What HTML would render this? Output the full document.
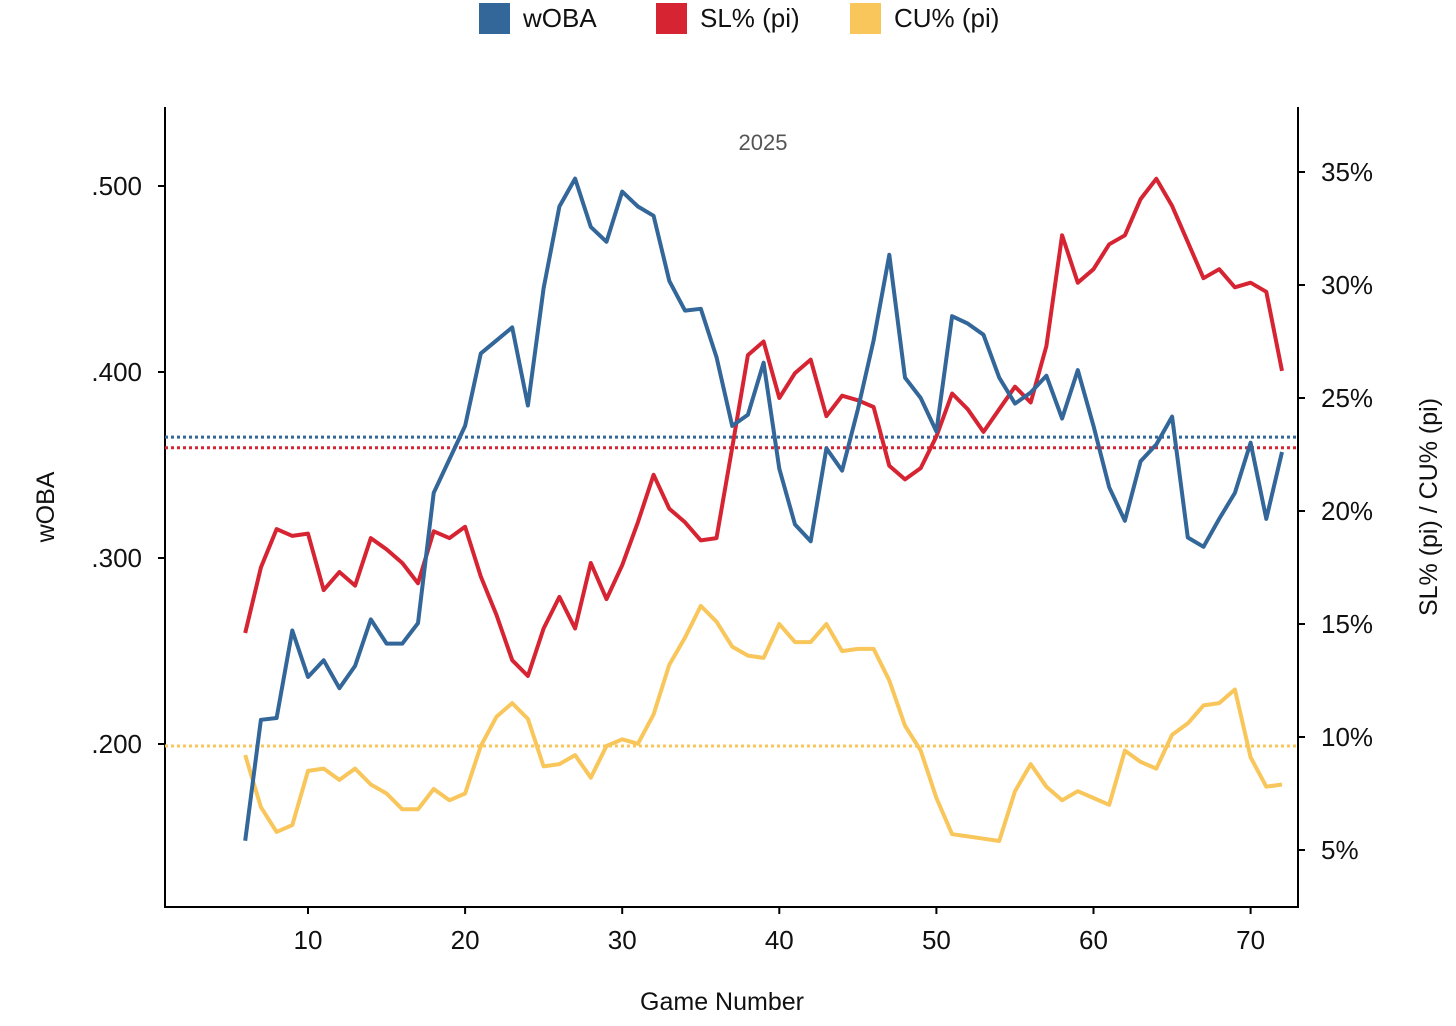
<!DOCTYPE html>
<html><head><meta charset="utf-8">
<style>
html,body{margin:0;padding:0;background:#fff;}
svg text{font-family:"Liberation Sans",sans-serif;}
</style></head>
<body>
<svg id="chart" width="1456" height="1021" viewBox="0 0 1456 1021" xmlns="http://www.w3.org/2000/svg">
  <g>
    <rect x="479" y="3" width="31" height="31" fill="#336699"/>
    <text x="523" y="27" font-size="26" fill="#111">wOBA</text>
    <rect x="656" y="3" width="31" height="31" fill="#d62433"/>
    <text x="700" y="27" font-size="26" fill="#111">SL% (pi)</text>
    <rect x="850" y="3" width="31" height="31" fill="#f8c65a"/>
    <text x="894" y="27" font-size="26" fill="#111">CU% (pi)</text>
  </g>
  <text x="763" y="150" font-size="22" fill="#555" text-anchor="middle">2025</text>
  <g id="axes"></g>
  <g id="refs"></g>
  <g id="series"></g>
  <text x="722" y="1010" font-size="25" fill="#111" text-anchor="middle">Game Number</text>
  <text transform="translate(54,507) rotate(-90)" font-size="25" fill="#111" text-anchor="middle">wOBA</text>
  <text transform="translate(1437,507) rotate(-90)" font-size="25" fill="#111" text-anchor="middle">SL% (pi) / CU% (pi)</text>
</svg>
<script>
const games = [];
for (let g = 6; g <= 72; g++) games.push(g);
const wobaValues = [.148,.213,.214,.261,.236,.245,.230,.242,.267,.254,.254,.265,.335,.353,.371,.410,.417,.424,.382,.445,.489,.504,.478,.470,.497,.489,.484,.449,.433,.434,.408,.371,.377,.405,.348,.318,.309,.359,.347,.380,.417,.463,.397,.386,.368,.430,.426,.420,.397,.383,.389,.398,.375,.401,.371,.338,.320,.352,.361,.376,.311,.306,.321,.335,.362,.321,.357];
const slValues = [14.6,17.5,19.2,18.9,19.0,16.5,17.3,16.7,18.8,18.3,17.7,16.8,19.1,18.8,19.3,17.1,15.4,13.4,12.7,14.8,16.2,14.8,17.7,16.1,17.6,19.5,21.6,20.1,19.5,18.7,18.8,22.8,26.9,27.5,25.0,26.1,26.7,24.2,25.1,24.9,24.6,22.0,21.4,21.9,23.3,25.2,24.5,23.5,24.5,25.5,24.8,27.3,32.2,30.1,30.7,31.8,32.2,33.8,34.7,33.5,31.9,30.3,30.7,29.9,30.1,29.7,26.2];
const cuValues = [9.2,6.9,5.8,6.1,8.5,8.6,8.1,8.6,7.9,7.5,6.8,6.8,7.7,7.2,7.5,9.6,10.9,11.5,10.8,8.7,8.8,9.2,8.2,9.6,9.9,9.7,11.0,13.2,14.4,15.8,15.1,14.0,13.6,13.5,15.0,14.2,14.2,15.0,13.8,13.9,13.9,12.5,10.5,9.4,7.3,5.7,5.6,5.5,5.4,7.6,8.8,7.8,7.2,7.6,7.3,7.0,9.4,8.9,8.6,10.1,10.6,11.4,11.5,12.1,9.1,7.8,7.9];
const wobaAvg = [.365];
const slAvg = [22.8];
const cuAvg = [9.6];
const xTicks = [10,20,30,40,50,60,70];
const leftTicks = [.500,.400,.300,.200];
const leftTickLabels = [".500",".400",".300",".200"];
const rightTicks = [35,30,25,20,15,10,5];
const rightTickLabels = ["35%","30%","25%","20%","15%","10%","5%"];

const NS = "http://www.w3.org/2000/svg";
const L = 165, R = 1298, T = 107, B = 907;
const xs = g => 308 + (g - 10) * 15.71;
const yl = v => 186 + (0.5 - v) * 1860;
const yr = p => 172 + (35 - p) * 22.6;

function mk(tag, attrs, parent) {
  const e = document.createElementNS(NS, tag);
  for (const k in attrs) e.setAttribute(k, attrs[k]);
  parent.appendChild(e);
  return e;
}
const axes = document.getElementById('axes');
let el = mk('line', {x1:L,y1:T,x2:L,y2:B+1,stroke:'#000','stroke-width':2}, axes);


el = mk('line', {x1:R,y1:T,x2:R,y2:B+1,stroke:'#000','stroke-width':2}, axes);


el = mk('line', {x1:L,y1:B,x2:R,y2:B,stroke:'#000','stroke-width':2}, axes);



xTicks.forEach(t => {
  const x = xs(t);
  const tk = mk('line', {x1:x,y1:B,x2:x,y2:B+7,stroke:'#000','stroke-width':2}, axes);
  
  
  const tx = mk('text', {x:x,y:949,'font-size':26,'text-anchor':'middle',fill:'#111'}, axes);
  tx.textContent = t;
  
  
});
leftTicks.forEach((t, i) => {
  const y = yl(t);
  const tk = mk('line', {x1:L-7,y1:y,x2:L,y2:y,stroke:'#000','stroke-width':2}, axes);
  
  
  const tx = mk('text', {x:142,y:y+9,'font-size':26,'text-anchor':'end',fill:'#111'}, axes);
  tx.textContent = leftTickLabels[i];
  
  
});
rightTicks.forEach((t, i) => {
  const y = yr(t);
  const tk = mk('line', {x1:R,y1:y,x2:R+7,y2:y,stroke:'#000','stroke-width':2}, axes);
  
  
  const tx = mk('text', {x:1321,y:y+9,'font-size':26,fill:'#111'}, axes);
  tx.textContent = rightTickLabels[i];
  
  
});

const refs = document.getElementById('refs');
function refLine(y, color, name) {
  const e = mk('line', {x1:L,y1:y,x2:R,y2:y,stroke:color,'stroke-width':3,'stroke-dasharray':'3 3'}, refs);
  
  
}
refLine(yl(wobaAvg[0]), '#336699', 'woba-average-line');
refLine(yr(slAvg[0]), '#d62433', 'sl-average-line');
refLine(yr(cuAvg[0]), '#f8c65a', 'cu-average-line');

const series = document.getElementById('series');
function path(vals, yf, color, name) {
  const d = vals.map((v, i) => (i ? 'L' : 'M') + xs(games[i]).toFixed(1) + ',' + yf(v).toFixed(1)).join(' ');
  const e = mk('path', {d:d,fill:'none',stroke:color,'stroke-width':4,'stroke-linejoin':'round'}, series);
  
  
}
path(cuValues, yr, '#f8c65a', 'cu-line');
path(slValues, yr, '#d62433', 'sl-line');
path(wobaValues, yl, '#336699', 'woba-line');
</script>
</body></html>
